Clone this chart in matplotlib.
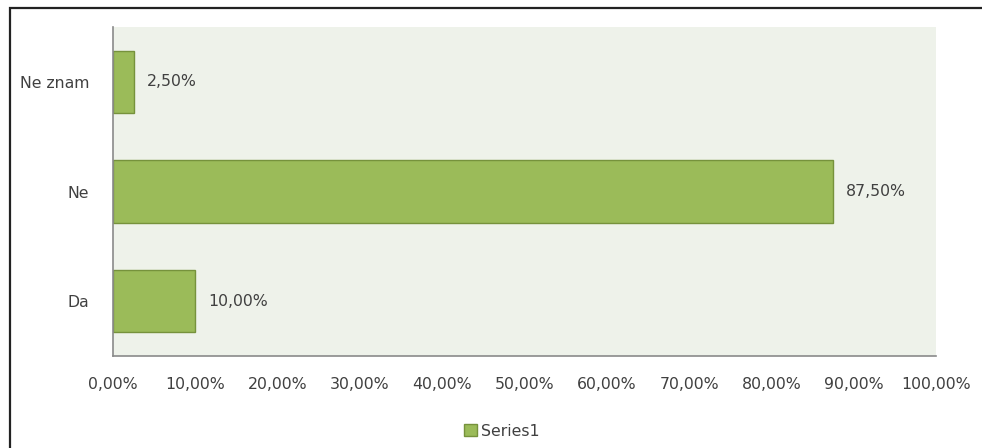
import matplotlib.pyplot as plt
from matplotlib.patches import Rectangle, Patch

categories = ["Da", "Ne", "Ne znam"]
values = [10.0, 87.5, 2.5]
x_ticks = [0, 10, 20, 30, 40, 50, 60, 70, 80, 90, 100]
series_name = "Series1"

bar_color = "#9BBB59"
edge_color = "#76923C"
text_color = "#404040"
fs = 11.3

fig = plt.figure(figsize=(9.82, 4.48), dpi=100)
ax = fig.add_axes([113 / 982, 92 / 448, 823 / 982, 329 / 448])
ax.set_facecolor("#EEF2EA")

y = range(len(categories))
ax.barh(y, values, height=0.57, color=bar_color, edgecolor=edge_color, linewidth=1)

for i, v in enumerate(values):
    ax.text(v + 1.6, i, f"{v:.2f}%".replace(".", ","), va="center", ha="left",
            fontsize=fs, color=text_color)

ax.set_xlim(0, 100)
ax.set_ylim(-0.5, 2.5)
ax.set_yticks(list(y))
ax.set_yticklabels(categories, fontsize=fs, color=text_color)
ax.set_xticks(x_ticks)
ax.set_xticklabels([f"{t:.2f}%".replace(".", ",") for t in x_ticks],
                   fontsize=fs, color=text_color)
ax.tick_params(axis="y", length=0, pad=17)
ax.tick_params(axis="x", length=0, pad=15)

for side in ["top", "right"]:
    ax.spines[side].set_visible(False)
for side in ["left", "bottom"]:
    ax.spines[side].set_color("#8A8A8A")
    ax.spines[side].set_linewidth(1.2)

# legend below the axis
handle = Patch(facecolor=bar_color, edgecolor=edge_color, label=series_name)
fig.legend(handles=[handle], loc="center", bbox_to_anchor=(502 / 982, 1 - 431 / 448),
           frameon=False, fontsize=fs, handlelength=0.8, handleheight=0.8,
           handletextpad=0.3, labelcolor=text_color)

# outer chart border
fig.patches.append(Rectangle((9.5 / 982, -0.1), 1.0, 1.1 - 8.5 / 448,
                             transform=fig.transFigure, fill=False,
                             edgecolor="#222222", linewidth=1.6))

plt.savefig("out.png", dpi=100)
